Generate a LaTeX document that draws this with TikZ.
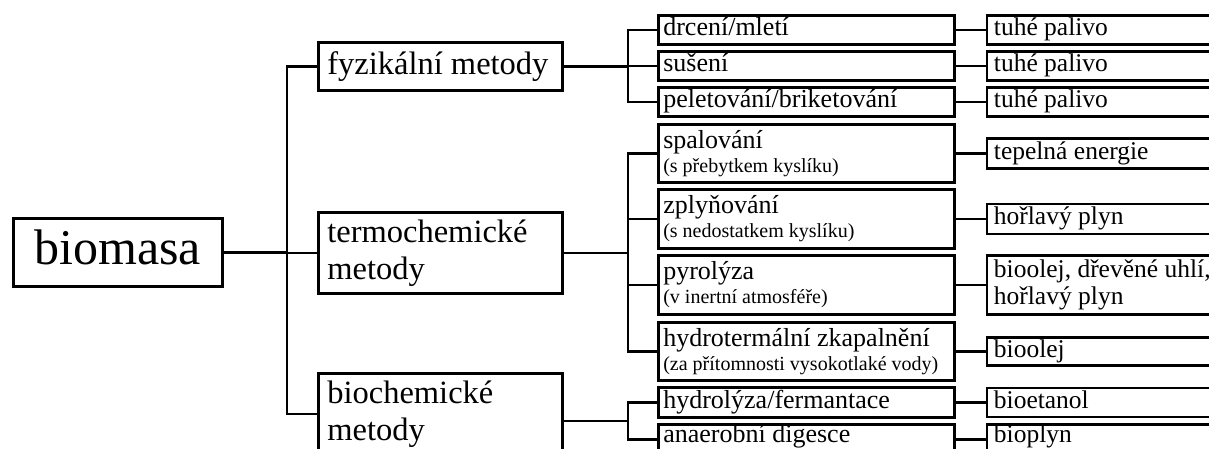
\documentclass[tikz,border=0pt]{standalone}
\usepackage{fontspec}
\setmainfont{Liberation Serif}
\usetikzlibrary{positioning}
\usetikzlibrary{calc}

\newcommand{\podm}[1]{{\fontsize{20}{24}\selectfont #1}}

\tikzset{
  conn/.style={line width=2.6pt},
  rootbox/.style={draw,line width=2.6pt,anchor=north west,minimum width=209pt,minimum height=68pt,inner sep=0pt,font=\fontsize{50}{50}\selectfont,text height=34pt,text depth=10pt},
  methbox/.style={draw,line width=2.6pt,anchor=north west,minimum width=244pt,inner xsep=9pt,inner ysep=0pt,text width=226pt,align=flush left,font=\fontsize{32.5}{37}\selectfont},
  procbox/.style={draw,line width=2.6pt,anchor=north west,minimum width=296pt,inner xsep=5pt,inner ysep=0pt,text width=286pt,align=flush left,font=\fontsize{26}{24}\selectfont},
  prodbox/.style={draw,line width=2.6pt,minimum width=250pt,inner xsep=7pt,inner ysep=0pt,text width=236pt,align=flush left,font=\fontsize{25.5}{27}\selectfont},
  oneline/.style={text height=18pt,text depth=6pt},
  lastline/.style={text height=16pt,text depth=10pt}
}

\begin{document}
\begin{tikzpicture}[x=1pt,y=-1pt]
\useasboundingbox (0,0) rectangle (1209,448);
\clip (0,0) rectangle (1209,448);

\node[rootbox] (root) at (12,217) {biomasa};

\node[methbox,minimum height=48pt,text height=23pt,text depth=7pt] (fyz) at (317,41) {fyzikální metody};
\node[methbox,minimum height=81pt] (tch) at (317,211) {termochemické\\metody};
\node[methbox,minimum height=81pt] (bch) at (317,372) {biochemické\\metody};

\node[procbox,oneline,minimum height=29pt] (drc) at (657,14) {drcení/mletí};
\node[procbox,oneline,minimum height=29pt] (sus) at (657,50) {sušení};
\node[procbox,oneline,minimum height=29pt] (pel) at (657,86) {peletování/briketování};
\node[procbox,minimum height=58pt] (spa) at (657,123) {spalování\\\podm{(s přebytkem kyslíku)}};
\node[procbox,minimum height=59pt] (zpl) at (657,188) {zplyňování\\\podm{(s nedostatkem kyslíku)}};
\node[procbox,minimum height=59pt] (pyr) at (657,254) {pyrolýza\\\podm{(v inertní atmosféře)}};
\node[procbox,minimum height=58pt] (hyt) at (657,321) {hydrotermální zkapalnění\\\podm{(za přítomnosti vysokotlaké vody)}};
\node[procbox,oneline,minimum height=30pt] (hyd) at (657,386) {hydrolýza/fermantace};
\node[procbox,lastline,minimum height=30pt] (ana) at (657,423) {anaerobní digesce};

\node[prodbox,oneline,minimum height=29pt,right=30pt of drc] (o1) {tuhé palivo};
\node[prodbox,oneline,minimum height=29pt,right=30pt of sus] (o2) {tuhé palivo};
\node[prodbox,oneline,minimum height=29pt,right=30pt of pel] (o3) {tuhé palivo};
\node[prodbox,oneline,minimum height=30pt,right=30pt of spa] (o4) {tepelná energie};
\node[prodbox,oneline,minimum height=30pt,right=30pt of zpl] (o5) {hořlavý plyn};
\node[prodbox,minimum height=59pt,right=30pt of pyr] (o6) {bioolej, dřevěné uhlí,\\hořlavý plyn};
\node[prodbox,oneline,minimum height=28pt,right=30pt of hyt] (o7) {bioolej};
\node[prodbox,oneline,minimum height=29pt,right=30pt of hyd] (o8) {bioetanol};
\node[prodbox,lastline,minimum height=30pt,right=30pt of ana] (o9) {bioplyn};

\coordinate (tA) at (287,0);
\coordinate (tB) at (628,0);
\coordinate (bmid) at ($(hyd.west)!0.5!(ana.west)$);

\draw[conn] (root.east) -- (root.east -| tA);
\draw[conn] (fyz.west) -| (tA |- bch.west) -- (bch.west);
\draw[conn] (tch.west) -- (tch.west -| tA);

\draw[conn] (fyz.east) -- (fyz.east -| tB);
\draw[conn] (drc.west) -| (tB |- pel.west) -- (pel.west);
\draw[conn] (sus.west) -- (sus.west -| tB);

\draw[conn] (tch.east) -- (tch.east -| tB);
\draw[conn] (spa.west) -| (tB |- hyt.west) -- (hyt.west);
\draw[conn] (zpl.west) -- (zpl.west -| tB);
\draw[conn] (pyr.west) -- (pyr.west -| tB);

\draw[conn] (bch.east |- bmid) -- (bmid -| tB);
\draw[conn] (hyd.west) -| (tB |- ana.west) -- (ana.west);

\draw[conn] (drc) -- (o1);
\draw[conn] (sus) -- (o2);
\draw[conn] (pel) -- (o3);
\draw[conn] (spa) -- (o4);
\draw[conn] (zpl) -- (o5);
\draw[conn] (pyr) -- (o6);
\draw[conn] (hyt) -- (o7);
\draw[conn] (hyd) -- (o8);
\draw[conn] (ana) -- (o9);

\end{tikzpicture}
\end{document}
